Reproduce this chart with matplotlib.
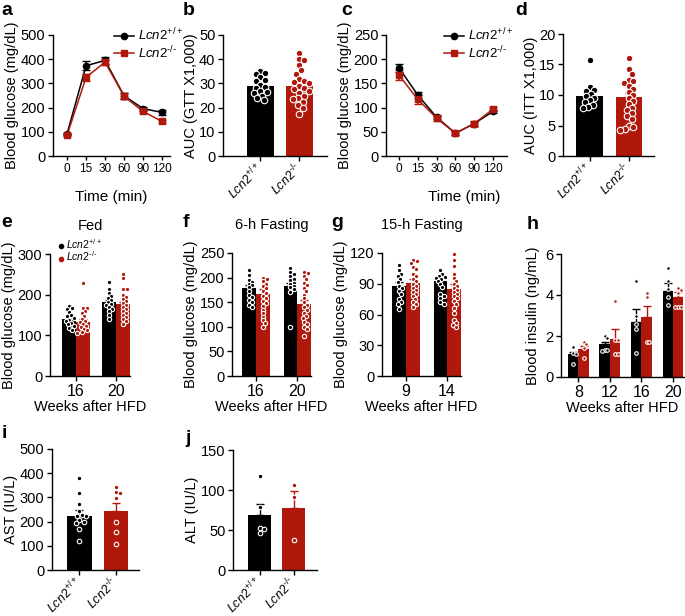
import matplotlib
matplotlib.use('Agg')
import matplotlib.pyplot as plt
from matplotlib.lines import Line2D
import numpy as np

plt.rcParams['font.family'] = ['Liberation Sans', 'DejaVu Sans']
plt.rcParams['mathtext.fontset'] = 'custom'
plt.rcParams['mathtext.rm'] = 'Liberation Sans'
plt.rcParams['mathtext.it'] = 'Liberation Sans:italic'
plt.rcParams['mathtext.bf'] = 'Liberation Sans:bold'
plt.rcParams['axes.linewidth'] = 1.0

BLACK = '#000000'
RED = '#B0180C'
WT_LABEL = r'$\mathit{Lcn2}^{+/+}$'
KO_LABEL = r'$\mathit{Lcn2}^{\text{-/-}}$'
genotypes = [WT_LABEL, KO_LABEL]

# ---------------- data ----------------
# a: GTT
gtt_times = ['0', '15', '30', '60', '90', '120']
gtt_wt = [92, 373, 395, 249, 196, 180]
gtt_wt_sem = [5, 18, 15, 12, 8, 10]
gtt_ko = [86, 325, 388, 247, 184, 143]
gtt_ko_sem = [5, 14, 13, 12, 7, 6]

# b: GTT AUC
auc_gtt_means = [28.9, 29.1]
auc_gtt_sem = [1.0, 1.4]
auc_gtt_wt = [35, 34.5, 34, 32.5, 31.5, 31, 29.5, 28.5, 28, 27, 26.5, 26, 25, 24, 23]
auc_gtt_ko = [42.5, 40, 39.5, 37.5, 35.5, 34, 32, 31, 30.5, 30, 29, 28, 27.5, 27, 26,
              25, 24, 23.5, 22.5, 21, 20, 17.5]

# c: ITT
itt_times = ['0', '15', '30', '60', '90', '120']
itt_wt = [182, 126, 80, 47, 67, 92]
itt_wt_sem = [9, 7, 4, 4, 4, 4]
itt_ko = [167, 117, 78, 47, 67, 97]
itt_ko_sem = [10, 10, 5, 4, 5, 5]

# d: ITT AUC
auc_itt_means = [9.9, 9.7]
auc_itt_sem = [0.6, 0.7]
auc_itt_wt = [15.7, 11.3, 10.8, 10.6, 10.2, 9.8, 9.5, 9.1, 8.8, 8.4, 8.1, 7.9]
auc_itt_ko = [16, 14.2, 13.5, 12.5, 12.3, 12, 11.5, 11, 10.5, 10, 9.5, 9, 8.5, 7.8,
              7.5, 7, 6.5, 6, 5, 4.8, 4.4, 4.3]

# e: Fed glucose
fed_weeks = ['16', '20']
fed_wt_means = [139, 181]
fed_ko_means = [133, 176]
fed_wt_sem = [5, 6]
fed_ko_sem = [6, 7]
fed_wt_pts = [[172, 166, 165, 158, 150, 148, 142, 138, 135, 130, 127, 122, 118, 112],
              [232, 215, 205, 197, 192, 188, 182, 178, 175, 170, 165, 160, 150, 140]]
fed_ko_pts = [[228, 168, 168, 160, 155, 148, 140, 136, 132, 128, 124, 120, 116, 112, 108, 106],
              [250, 240, 215, 213, 200, 195, 190, 185, 180, 175, 170, 165, 160, 155,
               150, 145, 140, 135, 128]]

# f: 6-h fasting
f6_weeks = ['16', '20']
f6_wt_means = [179, 183]
f6_ko_means = [166, 146]
f6_wt_sem = [6, 7]
f6_ko_sem = [10, 8]
f6_wt_pts = [[215, 205, 196, 192, 188, 185, 180, 172, 165, 160, 155, 150, 145, 140],
             [220, 212, 208, 203, 198, 195, 190, 187, 183, 180, 176, 170, 100]]
f6_ko_pts = [[200, 198, 193, 188, 182, 178, 173, 168, 163, 158, 153, 148, 142, 135,
              128, 120, 113, 107, 100],
             [212, 210, 203, 197, 190, 185, 178, 172, 165, 158, 150, 145, 140, 135,
              128, 122, 118, 110, 105, 100, 95, 82]]

# g: 15-h fasting
f15_weeks = ['9', '14']
f15_wt_means = [88, 93]
f15_ko_means = [91, 85]
f15_wt_sem = [4, 3]
f15_ko_sem = [4, 5]
f15_wt_pts = [[108, 103, 100, 98, 95, 92, 88, 86, 83, 80, 75, 72, 70, 65],
              [103, 100, 98, 97, 96, 95, 93, 90, 87, 80, 78, 76, 72, 70]]
f15_ko_pts = [[113, 112, 110, 106, 104, 100, 98, 95, 93, 90, 88, 86, 84, 82, 80, 78,
               75, 72, 70, 67],
              [119, 113, 107, 100, 96, 93, 90, 88, 86, 84, 82, 80, 78, 76, 73, 70,
               66, 61, 55, 52, 50, 48]]

# h: insulin
ins_weeks = ['8', '12', '16', '20']
ins_wt_means = [1.11, 1.6, 2.7, 4.2]
ins_ko_means = [1.36, 1.83, 2.94, 3.92]
ins_wt_sem = [0.1, 0.12, 0.6, 0.38]
ins_ko_sem = [0.15, 0.5, 0.54, 0.25]
ins_wt_pts = [[1.45, 1.15, 1.1, 0.62], [2.0, 1.9, 1.3, 1.25, 1.3],
              [4.7, 3.0, 2.6, 2.35, 1.15], [5.3, 4.7, 4.3, 3.9, 3.5]]
ins_ko_pts = [[1.7, 1.6, 1.4, 0.95], [3.7, 1.8, 1.8, 1.1, 1.1],
              [4.1, 3.9, 1.7, 1.7], [4.35, 4.25, 4.1, 3.4, 3.4, 3.4]]

# i: AST
ast_means = [225, 243]
ast_sem = [23, 35]
ast_wt = [381, 319, 272, 243, 228, 225, 222, 205, 200, 195, 168, 120]
ast_ko = [344, 323, 320, 296, 199, 155, 109]

# j: ALT
alt_means = [68.6, 78]
alt_sem = [14.5, 20.6]
alt_wt = [118, 79, 53, 51, 46]
alt_ko = [106, 91, 37]

# ---------------- figure ----------------
W, H = 685, 616
fig = plt.figure(figsize=(W / 100, H / 100), dpi=100)
FS = 10.5
LFS = 10.5
RFS = 9.0


def make_ax(l, t, r, b):
    ax = fig.add_axes([l / W, 1 - b / H, (r - l) / W, (b - t) / H])
    ax.spines['top'].set_visible(False)
    ax.spines['right'].set_visible(False)
    ax.tick_params(direction='out', length=3.5, width=1.0, labelsize=FS, pad=2)
    ax._px = (r - l, b - t)
    return ax


def swarm(ax, values, center, color, diam_px, half_px, sep=0.9):
    xl = ax.get_xlim()
    yl = ax.get_ylim()
    sx = ax._px[0] / (xl[1] - xl[0])
    sy = ax._px[1] / (yl[1] - yl[0])
    vals = np.asarray(values, dtype=float)
    order = np.argsort(-vals, kind='stable')
    placed = []
    xs = np.zeros(len(vals))
    step = diam_px * 0.25
    n = max(int(half_px / step), 0)
    cands = [0.0]
    for k in range(1, n + 1):
        cands += [k * step, -k * step]
    for i in order:
        y = vals[i] * sy
        best, bestd = 0.0, -1.0
        for c in cands:
            d = min([np.hypot(c - px, y - py) for px, py in placed], default=1e9)
            if d >= diam_px * sep:
                best = c
                break
            if d > bestd:
                best, bestd = c, d
        placed.append((best, y))
        xs[i] = center + best / sx
    ms_pt = diam_px * 0.72
    ax.scatter(xs, vals, s=ms_pt ** 2, facecolors=color, edgecolors='white',
               linewidths=0.8, zorder=4, clip_on=False)


def bar_with_err(ax, x, mean, sem, color, width):
    ax.bar([x], [mean], width=width, color=color, edgecolor='none', zorder=1)
    ax.errorbar([x], [mean], yerr=[[0], [sem]], fmt='none', ecolor=color,
                elinewidth=1.0, capsize=3, capthick=1.0, zorder=2)


def panel_label(x, y, s):
    fig.text(x / W, 1 - y / H, s, fontsize=14, fontweight='bold', va='baseline', ha='left')


def line_legend(ax, anchor):
    hs = [Line2D([0], [0], color=BLACK, marker='o', ms=4.5, lw=1.1),
          Line2D([0], [0], color=RED, marker='s', ms=4.5, lw=1.1)]
    ax.legend(hs, [WT_LABEL, KO_LABEL], loc='upper left', bbox_to_anchor=anchor,
              frameon=False, fontsize=9.5, handlelength=1.5, handletextpad=0.3,
              labelspacing=0.1, borderaxespad=0, borderpad=0)


def geno_ticks(ax):
    ax.set_xticks([0, 1])
    ax.set_xticklabels(genotypes, rotation=45, ha='right', va='center',
                       rotation_mode='anchor', fontsize=RFS)
    ax.tick_params(axis='x', pad=4)


# a
ax = make_ax(53, 35, 170, 156)
xs = np.arange(len(gtt_times))
ax.errorbar(xs, gtt_wt, yerr=gtt_wt_sem, color=BLACK, marker='o', ms=4.5, lw=1.1,
            capsize=3, capthick=1, zorder=3)
ax.errorbar(xs, gtt_ko, yerr=gtt_ko_sem, color=RED, marker='s', ms=4.5, lw=1.1,
            capsize=3, capthick=1, zorder=3)
ax.set_xlim(-0.74, 5.42)
ax.set_ylim(0, 500)
ax.set_yticks([0, 100, 200, 300, 400, 500])
ax.set_xticks(xs)
ax.set_xticklabels(gtt_times, fontsize=8.5)
ax.tick_params(axis='x', length=3)
ax.set_xlabel('Time (min)', fontsize=11)
ax.xaxis.set_label_coords(0.5, -0.28)
ax.set_ylabel('Blood glucose (mg/dL)', fontsize=LFS, labelpad=1)
line_legend(ax, (0.52, 1.07))
panel_label(1, 15, 'a')

# b
ax = make_ax(223, 35, 327, 156)
ax.set_xlim(-0.96, 1.71)
ax.set_ylim(0, 50)
for i, (m, s, c) in enumerate(zip(auc_gtt_means, auc_gtt_sem, [BLACK, RED])):
    bar_with_err(ax, i, m, s, c, 0.69)
swarm(ax, auc_gtt_wt, 0, BLACK, 6.5, 11, sep=0.75)
swarm(ax, auc_gtt_ko, 1, RED, 6.5, 11, sep=0.75)
ax.set_yticks([0, 10, 20, 30, 40, 50])
geno_ticks(ax)
ax.set_ylabel('AUC (GTT X1,000)', fontsize=LFS, labelpad=1)
panel_label(183, 15, 'b')

# c
ax = make_ax(386, 35, 507, 156)
xs = np.arange(len(itt_times))
ax.errorbar(xs, itt_wt, yerr=itt_wt_sem, color=BLACK, marker='o', ms=4.5, lw=1.1,
            capsize=3, capthick=1, zorder=3)
ax.errorbar(xs, itt_ko, yerr=itt_ko_sem, color=RED, marker='s', ms=4.5, lw=1.1,
            capsize=3, capthick=1, zorder=3)
ax.set_xlim(-0.69, 5.74)
ax.set_ylim(0, 250)
ax.set_yticks([0, 50, 100, 150, 200, 250])
ax.set_xticks(xs)
ax.set_xticklabels(itt_times, fontsize=8.5)
ax.tick_params(axis='x', length=3)
ax.set_xlabel('Time (min)', fontsize=11)
ax.xaxis.set_label_coords(0.645, -0.28)
ax.set_ylabel('Blood glucose (mg/dL)', fontsize=LFS, labelpad=1)
line_legend(ax, (0.48, 1.07))
panel_label(341, 15, 'c')

# d
ax = make_ax(563, 34, 654, 156)
ax.set_xlim(-0.68, 1.65)
ax.set_ylim(0, 20)
for i, (m, s, c) in enumerate(zip(auc_itt_means, auc_itt_sem, [BLACK, RED])):
    bar_with_err(ax, i, m, s, c, 0.67)
swarm(ax, auc_itt_wt, 0, BLACK, 6.5, 10.5, sep=0.75)
swarm(ax, auc_itt_ko, 1, RED, 6.5, 10.5, sep=0.75)
ax.set_yticks([0, 5, 10, 15, 20])
geno_ticks(ax)
ax.set_ylabel('AUC (ITT X1,000)', fontsize=LFS, labelpad=1)
panel_label(515, 15, 'd')


def grouped(ax, groups, wt_m, ko_m, wt_s, ko_s, wt_p, ko_p, bw, diam, half):
    for g in range(len(groups)):
        bar_with_err(ax, g - bw / 2, wt_m[g], wt_s[g], BLACK, bw)
        bar_with_err(ax, g + bw / 2, ko_m[g], ko_s[g], RED, bw)
    for g in range(len(groups)):
        swarm(ax, wt_p[g], g - bw / 2, BLACK, diam, half, sep=0.8)
        swarm(ax, ko_p[g], g + bw / 2, RED, diam, half, sep=0.8)
    ax.set_xticks(range(len(groups)))
    ax.set_xticklabels(groups, fontsize=11.5)
    ax.set_xlabel('Weeks after HFD', fontsize=FS, labelpad=1)


# e
ax = make_ax(50, 254, 130, 376)
ax.set_xlim(-0.65, 1.35)
ax.set_ylim(0, 300)
grouped(ax, fed_weeks, fed_wt_means, fed_ko_means, fed_wt_sem, fed_ko_sem,
        fed_wt_pts, fed_ko_pts, 0.34, 4.3, 5.5)
ax.set_yticks([0, 100, 200, 300])
ax.set_ylabel('Blood glucose (mg/dL)', fontsize=LFS, labelpad=1)
ax.set_title('Fed', fontsize=FS, pad=17)
ax.scatter([], [], s=9, color=BLACK, label=WT_LABEL)
ax.scatter([], [], s=9, color=RED, label=KO_LABEL)
ax.legend(loc='upper left', bbox_to_anchor=(0.1, 1.14), frameon=False, fontsize=7.5,
          handlelength=0.5, handletextpad=0.3, labelspacing=-0.1, borderaxespad=0,
          borderpad=0)
panel_label(1, 227, 'e')

# f
ax = make_ax(232, 253, 311, 376)
ax.set_xlim(-0.585, 1.34)
ax.set_ylim(0, 250)
grouped(ax, f6_weeks, f6_wt_means, f6_ko_means, f6_wt_sem, f6_ko_sem,
        f6_wt_pts, f6_ko_pts, 0.33, 4.3, 5.5)
ax.set_yticks([0, 50, 100, 150, 200, 250])
ax.set_ylabel('Blood glucose (mg/dL)', fontsize=LFS, labelpad=1)
ax.set_title('6-h Fasting', fontsize=FS, pad=17)
panel_label(183, 227, 'f')

# g
ax = make_ax(382, 253, 461, 376)
ax.set_xlim(-0.585, 1.34)
ax.set_ylim(0, 120)
grouped(ax, f15_weeks, f15_wt_means, f15_ko_means, f15_wt_sem, f15_ko_sem,
        f15_wt_pts, f15_ko_pts, 0.33, 4.3, 5.5)
ax.set_yticks([0, 30, 60, 90, 120])
ax.set_ylabel('Blood glucose (mg/dL)', fontsize=LFS, labelpad=1)
ax.set_title('15-h Fasting', fontsize=FS, pad=17)
panel_label(331, 227, 'g')

# h
ax = make_ax(561, 254, 684, 377)
ax.set_xlim(-0.55, 3.35)
ax.set_ylim(0, 6)
grouped(ax, ins_weeks, ins_wt_means, ins_ko_means, ins_wt_sem, ins_ko_sem,
        ins_wt_pts, ins_ko_pts, 0.33, 3.6, 3.5)
ax.set_yticks([0, 2, 4, 6])
ax.set_ylabel('Blood insulin (ng/mL)', fontsize=LFS, labelpad=4)
panel_label(527, 229, 'h')

# i
ax = make_ax(52, 449, 139, 570)
ax.set_xlim(-0.75, 1.63)
ax.set_ylim(0, 500)
for i, (m, s, c) in enumerate(zip(ast_means, ast_sem, [BLACK, RED])):
    bar_with_err(ax, i, m, s, c, 0.68)
swarm(ax, ast_wt, 0, BLACK, 4.5, 10)
swarm(ax, ast_ko, 1, RED, 4.5, 10)
ax.set_yticks([0, 100, 200, 300, 400, 500])
geno_ticks(ax)
ax.set_ylabel('AST (IU/L)', fontsize=LFS, labelpad=1)
panel_label(2, 438, 'i')

# j
ax = make_ax(233, 450, 317, 570)
ax.set_xlim(-0.77, 1.67)
ax.set_ylim(0, 150)
for i, (m, s, c) in enumerate(zip(alt_means, alt_sem, [BLACK, RED])):
    bar_with_err(ax, i, m, s, c, 0.67)
swarm(ax, alt_wt, 0, BLACK, 4.5, 10)
swarm(ax, alt_ko, 1, RED, 4.5, 10)
ax.set_yticks([0, 50, 100, 150])
geno_ticks(ax)
ax.set_ylabel('ALT (IU/L)', fontsize=LFS, labelpad=1)
panel_label(185, 443, 'j')

fig.savefig('out.png', dpi=100)
